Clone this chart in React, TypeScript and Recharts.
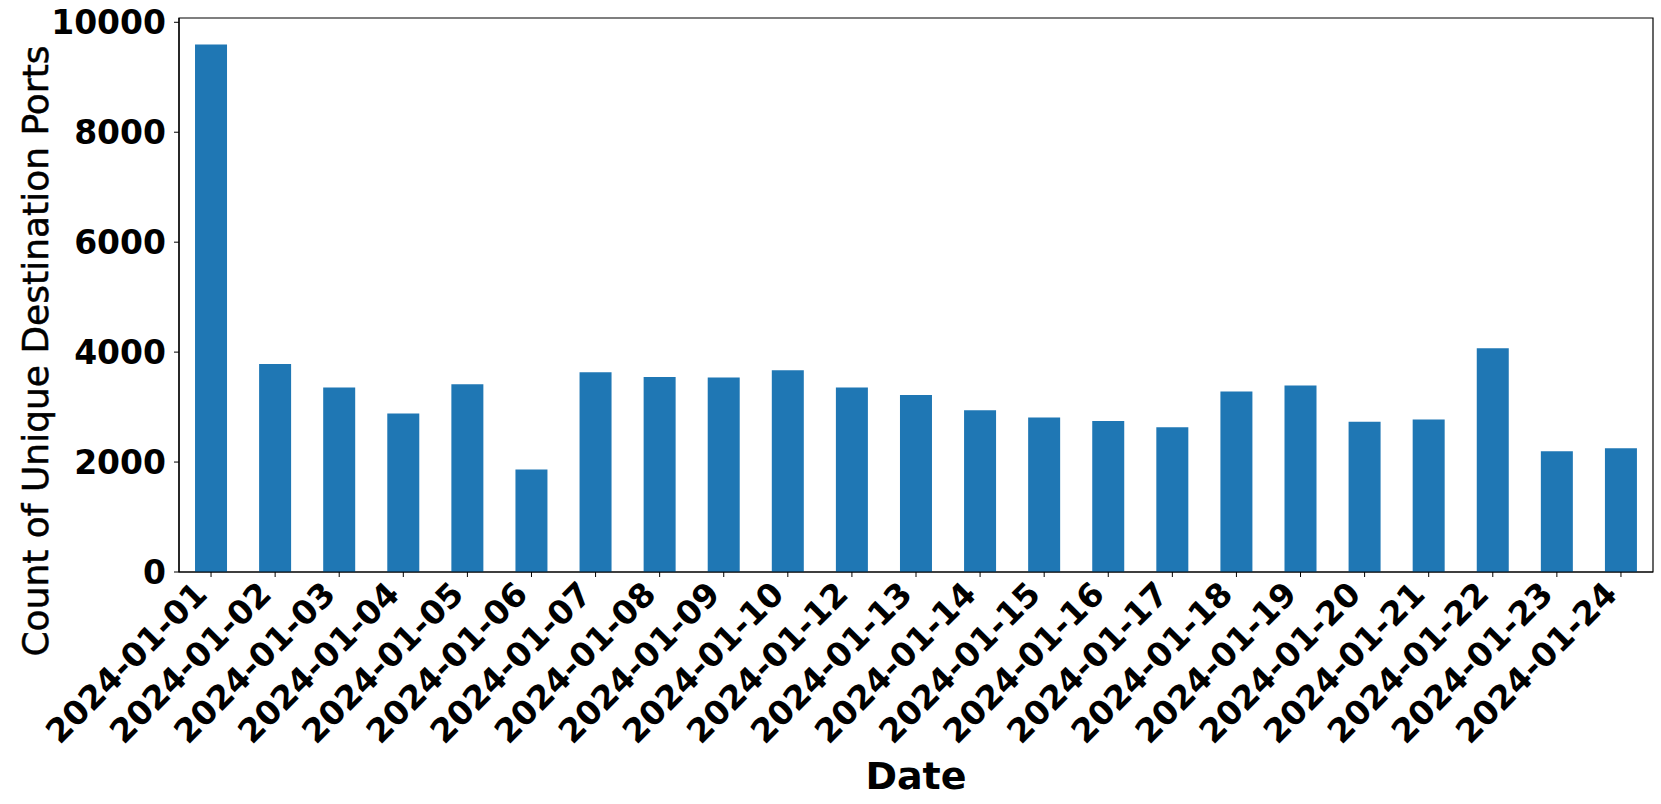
import { Bar, BarChart, ReferenceArea, XAxis, YAxis } from 'recharts'

const dates = [
  '2024-01-01', '2024-01-02', '2024-01-03', '2024-01-04', '2024-01-05',
  '2024-01-06', '2024-01-07', '2024-01-08', '2024-01-09', '2024-01-10',
  '2024-01-12', '2024-01-13', '2024-01-14', '2024-01-15', '2024-01-16',
  '2024-01-17', '2024-01-18', '2024-01-19', '2024-01-20', '2024-01-21',
  '2024-01-22', '2024-01-23', '2024-01-24',
]

const uniquePorts = [
  9598, 3785, 3355, 2883, 3416, 1865, 3634, 3549, 3537, 3670, 3355, 3222,
  2943, 2810, 2749, 2634, 3283, 3391, 2731, 2774, 4070, 2198, 2253,
]

const yTicks = [0, 2000, 4000, 6000, 8000, 10000]
const yMax = 10078

const data = dates.map((date, i) => ({ date, ports: uniquePorts[i] }))

const FONT = '"DejaVu Sans", sans-serif'

function DateTick({ x, y, payload }: any) {
  const ax = x - 2
  const ay = y + 17
  return (
    <text
      x={ax}
      y={ay}
      transform={`rotate(-45, ${ax}, ${ay})`}
      textAnchor="end"
      fontFamily={FONT}
      fontWeight="bold"
      fontSize={33}
      fill="#000"
    >
      {payload.value}
    </text>
  )
}

function XLabel({ viewBox }: any) {
  return (
    <text
      x={viewBox.x + viewBox.width / 2}
      y={789}
      textAnchor="middle"
      fontFamily={FONT}
      fontWeight="bold"
      fontSize={38}
      fill="#000"
    >
      Date
    </text>
  )
}

function YLabel() {
  return (
    <text
      x={48}
      y={351}
      transform="rotate(-90, 48, 351)"
      textAnchor="middle"
      fontFamily={FONT}
      fontSize={36}
      fill="#000"
      stroke="#000"
      strokeWidth={0.5}
    >
      Count of Unique Destination Ports
    </text>
  )
}

export default function App() {
  return (
    <div style={{ position: 'absolute', left: 0, top: 0, background: '#fff' }}>
      <BarChart
        width={1661}
        height={804}
        data={data}
        margin={{ top: 18, right: 8, bottom: 32, left: 79 }}
        barCategoryGap="25%"
      >
        <XAxis
          dataKey="date"
          interval={0}
          height={200}
          tickSize={5}
          tickMargin={2}
          axisLine={{ stroke: '#000', strokeWidth: 1.2 }}
          tickLine={{ stroke: '#000' }}
          tick={<DateTick />}
          label={<XLabel />}
        />
        <YAxis
          width={100}
          domain={[0, yMax]}
          ticks={yTicks}
          allowDataOverflow
          tickSize={5}
          tickMargin={8}
          axisLine={{ stroke: '#000', strokeWidth: 1.2 }}
          tickLine={{ stroke: '#000' }}
          tick={{ fontFamily: FONT, fontWeight: 'bold', fontSize: 33, fill: '#000' }}
          label={<YLabel />}
        />
        <Bar dataKey="ports" fill="#1f77b4" isAnimationActive={false} />
        <ReferenceArea
          y1={0}
          y2={yMax}
          fill="none"
          stroke="#000"
          strokeWidth={1.2}
          ifOverflow="visible"
        />
      </BarChart>
    </div>
  )
}
